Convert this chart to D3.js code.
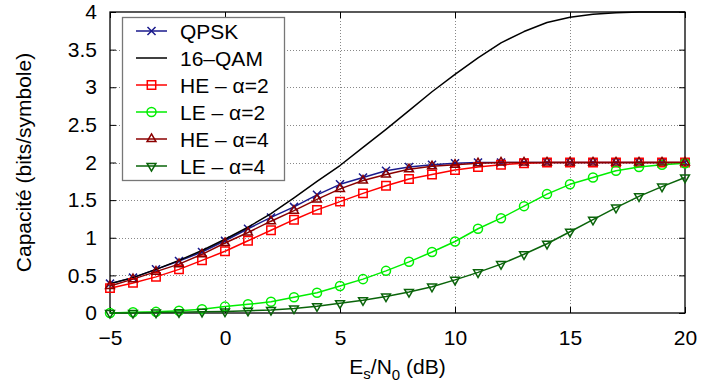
<!DOCTYPE html>
<html>
<head>
<meta charset="utf-8">
<script src="https://cdn.jsdelivr.net/npm/d3@7"></script>
<style>
  body { margin: 0; background: #fff; }
  svg { display: block; font-family: "Liberation Sans", Arial, sans-serif; }
</style>
</head>
<body>
<div id="chart"></div>
<script>
// Es/N0 grid (dB)
const snr = d3.range(-5, 21);

// capacity values (bits/symbole)
const qpsk  = [0.39, 0.47, 0.58, 0.69, 0.81, 0.96, 1.12, 1.27, 1.41, 1.57, 1.71, 1.80, 1.89, 1.94, 1.97, 1.99, 2.00, 2.00, 2.00, 2.00, 2.00, 2.00, 2.00, 2.00, 2.00, 2.00];
const qam16 = [0.39, 0.47, 0.58, 0.70, 0.83, 0.98, 1.14, 1.32, 1.53, 1.75, 1.96, 2.20, 2.44, 2.69, 2.94, 3.17, 3.39, 3.59, 3.74, 3.86, 3.93, 3.97, 3.99, 4.00, 4.00, 4.00];
const he2   = [0.33, 0.40, 0.48, 0.58, 0.70, 0.82, 0.96, 1.10, 1.24, 1.37, 1.48, 1.59, 1.69, 1.78, 1.84, 1.90, 1.94, 1.97, 1.99, 2.00, 2.00, 2.00, 2.00, 2.00, 2.00, 2.00];
const le2   = [0.00, 0.01, 0.015, 0.03, 0.05, 0.085, 0.115, 0.15, 0.21, 0.27, 0.36, 0.45, 0.56, 0.68, 0.81, 0.95, 1.12, 1.26, 1.42, 1.58, 1.71, 1.80, 1.89, 1.94, 1.97, 1.99];
const he4   = [0.36, 0.45, 0.55, 0.65, 0.78, 0.93, 1.07, 1.22, 1.36, 1.51, 1.65, 1.76, 1.84, 1.91, 1.95, 1.97, 1.99, 2.00, 2.00, 2.00, 2.00, 2.00, 2.00, 2.00, 2.00, 2.00];
const le4   = [0.00, 0.00, 0.005, 0.01, 0.015, 0.02, 0.03, 0.04, 0.06, 0.09, 0.13, 0.17, 0.22, 0.28, 0.35, 0.44, 0.54, 0.65, 0.78, 0.92, 1.08, 1.24, 1.40, 1.55, 1.68, 1.80];

const labels = ['QPSK', '16\u2013QAM', 'HE \u2013 \u03b1=2', 'LE \u2013 \u03b1=2', 'HE \u2013 \u03b1=4', 'LE \u2013 \u03b1=4'];
const xTicks = [-5, 0, 5, 10, 15, 20];
const yTicks = [0, 0.5, 1, 1.5, 2, 2.5, 3, 3.5, 4];

const series = [
  { name: labels[0], values: qpsk,  color: '#1a1a8c', symbol: d3.symbolTimes,     size: 44 },
  { name: labels[1], values: qam16, color: '#000000', symbol: null },
  { name: labels[2], values: he2,   color: '#ff0000', symbol: d3.symbolSquare2,   size: 90 },
  { name: labels[3], values: le2,   color: '#00ee00', symbol: d3.symbolCircle,    size: 64 },
  { name: labels[4], values: he4,   color: '#8b0000', symbol: d3.symbolTriangle2, size: 56 },
  { name: labels[5], values: le4,   color: '#0a640a', symbol: d3.symbolTriangle2, size: 56, flip: true },
];

const width = 701, height = 386;
const margin = { top: 12, right: 16, bottom: 73, left: 110 };
const fontSize = 21;

const x = d3.scaleLinear([-5, 20], [margin.left, width - margin.right]);
const y = d3.scaleLinear([0, 4], [height - margin.bottom, margin.top]);

const svg = d3.select('#chart')
  .append('svg')
  .attr('width', width)
  .attr('height', height)
  .attr('viewBox', [0, 0, width, height]);

// dotted grid
const grid = svg.append('g')
  .attr('stroke', '#888')
  .attr('stroke-width', 1)
  .attr('stroke-dasharray', '1,2');
grid.selectAll('line.v')
  .data(xTicks.slice(1, -1))
  .join('line')
  .attr('class', 'v')
  .attr('x1', (d) => Math.round(x(d)) + 0.5)
  .attr('x2', (d) => Math.round(x(d)) + 0.5)
  .attr('y1', y(0))
  .attr('y2', y(4));
grid.selectAll('line.h')
  .data(yTicks.slice(1, -1))
  .join('line')
  .attr('class', 'h')
  .attr('x1', x(-5))
  .attr('x2', x(20))
  .attr('y1', (d) => Math.round(y(d)) + 0.5)
  .attr('y2', (d) => Math.round(y(d)) + 0.5);

// axes, ticks pointing inward on all four sides
const fmt = d3.format('~g');
const axes = [
  { axis: d3.axisBottom(x).tickValues(xTicks).tickFormat(fmt).tickPadding(17), t: `translate(0,${y(0)})` },
  { axis: d3.axisTop(x).tickValues(xTicks).tickFormat(''), t: `translate(0,${y(4)})` },
  { axis: d3.axisLeft(y).tickValues(yTicks).tickFormat(fmt).tickPadding(13), t: `translate(${x(-5)},0)` },
  { axis: d3.axisRight(y).tickValues(yTicks).tickFormat(''), t: `translate(${x(20)},0)` },
];
axes.forEach(({ axis, t }) => {
  const g = svg.append('g')
    .attr('transform', t)
    .call(axis.tickSizeInner(-6).tickSizeOuter(0));
  g.select('.domain').remove();
  g.selectAll('.tick line').attr('stroke', '#000');
  g.selectAll('.tick text')
    .attr('font-size', fontSize)
    .attr('font-family', null)
    .attr('fill', '#000');
});

svg.append('rect')
  .attr('x', x(-5))
  .attr('y', y(4))
  .attr('width', x(20) - x(-5))
  .attr('height', y(0) - y(4))
  .attr('fill', 'none')
  .attr('stroke', '#000')
  .attr('stroke-width', 1.3);

// curves
const line = d3.line()
  .x((d, i) => x(snr[i]))
  .y((d) => y(d));

const symbolPath = (s) => d3.symbol(s.symbol, s.size)();

series.forEach((s) => {
  const g = svg.append('g');
  g.append('path')
    .attr('d', line(s.values))
    .attr('fill', 'none')
    .attr('stroke', s.color)
    .attr('stroke-width', 1.5)
    .attr('stroke-linejoin', 'round');
  if (!s.symbol) return;
  g.selectAll('path.m')
    .data(s.values)
    .join('path')
    .attr('class', 'm')
    .attr('d', symbolPath(s))
    .attr('transform', (d, i) => `translate(${x(snr[i])},${y(d)})${s.flip ? ' rotate(180)' : ''}`)
    .attr('fill', 'none')
    .attr('stroke', s.color)
    .attr('stroke-width', 1.5);
});

// legend
const legend = svg.append('g');
legend.append('rect')
  .attr('x', 122.5)
  .attr('y', 17.5)
  .attr('width', 162)
  .attr('height', 163)
  .attr('fill', '#fff')
  .attr('stroke', '#777')
  .attr('stroke-width', 1.3);

const item = legend.selectAll('g.item')
  .data(series)
  .join('g')
  .attr('class', 'item')
  .attr('transform', (d, i) => `translate(0,${31 + i * 27})`);
item.append('line')
  .attr('x1', 136)
  .attr('x2', 167)
  .attr('stroke', (d) => d.color)
  .attr('stroke-width', 1.5);
item.filter((d) => d.symbol)
  .append('path')
  .attr('d', (d) => symbolPath(d))
  .attr('transform', (d) => `translate(151.5,0)${d.flip ? ' rotate(180)' : ''}`)
  .attr('fill', 'none')
  .attr('stroke', (d) => d.color)
  .attr('stroke-width', 1.5);
item.append('text')
  .attr('x', 180)
  .attr('dy', '0.36em')
  .attr('font-size', fontSize)
  .text((d) => d.name);

// axis titles
const xTitle = svg.append('text')
  .attr('x', (x(-5) + x(20)) / 2)
  .attr('y', 374)
  .attr('text-anchor', 'middle')
  .attr('font-size', fontSize);
xTitle.append('tspan').text('E');
xTitle.append('tspan').attr('dy', 5).attr('font-size', 15).text('s');
xTitle.append('tspan').attr('dy', -5).text('/N');
xTitle.append('tspan').attr('dy', 6).attr('font-size', 15).text('0');
xTitle.append('tspan').attr('dy', -6).text(' (dB)');

svg.append('text')
  .attr('transform', `translate(31,${(y(0) + y(4)) / 2}) rotate(-90)`)
  .attr('text-anchor', 'middle')
  .attr('font-size', fontSize)
  .text('Capacit\u00e9 (bits/symbole)');
</script>
</body>
</html>
